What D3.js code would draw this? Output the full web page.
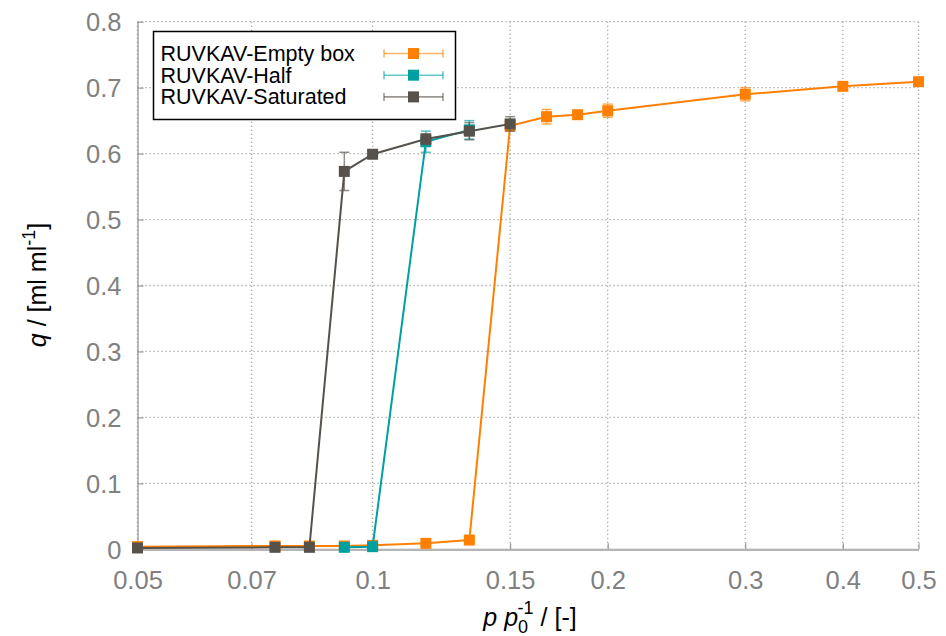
<!DOCTYPE html>
<html>
<head>
<meta charset="utf-8">
<script src="https://cdn.jsdelivr.net/npm/d3@7/dist/d3.min.js"></script>
<style>
  html, body { margin: 0; padding: 0; background: #fff; }
  svg { display: block; }
  text { font-family: "Liberation Sans", Arial, Helvetica, sans-serif; }
</style>
</head>
<body>
<svg id="chart" width="946" height="636"></svg>
<script>
// Relative pressure p/p0 (x) and uptake q in ml/ml (y), with error bars
const emptyX   = [0.05, 0.075, 0.083, 0.092, 0.1, 0.117, 0.133, 0.15, 0.167, 0.183, 0.2, 0.3, 0.4, 0.5];
const emptyQ   = [0.004, 0.005, 0.005, 0.005, 0.006, 0.009, 0.014, 0.642, 0.656, 0.659, 0.665, 0.690, 0.702, 0.709];
const emptyErr = [0.001, 0.001, 0.001, 0.001, 0.001, 0.002, 0.002, 0.006, 0.011, 0.004, 0.010, 0.010, 0.004, 0.003];

const halfX   = [0.092, 0.1, 0.117, 0.133];
const halfQ   = [0.003, 0.004, 0.618, 0.636];
const halfErr = [0.001, 0.001, 0.016, 0.014];

const satX   = [0.05, 0.075, 0.083, 0.092, 0.1, 0.117, 0.133, 0.15];
const satQ   = [0.002, 0.003, 0.003, 0.573, 0.599, 0.622, 0.634, 0.645];
const satErr = [0.001, 0.001, 0.001, 0.029, 0.004, 0.008, 0.013, 0.011];

const seriesNames  = ["RUVKAV-Empty box", "RUVKAV-Half", "RUVKAV-Saturated"];
const seriesColors = ["#ff8000", "#00a0a0", "#57514b"];

const xTicks = [0.05, 0.07, 0.1, 0.15, 0.2, 0.3, 0.4, 0.5];
const xTickLabels = ["0.05", "0.07", "0.1", "0.15", "0.2", "0.3", "0.4", "0.5"];
const yTicks = [0, 0.1, 0.2, 0.3, 0.4, 0.5, 0.6, 0.7, 0.8];
const yTickLabels = ["0", "0.1", "0.2", "0.3", "0.4", "0.5", "0.6", "0.7", "0.8"];

const series = [
  { name: seriesNames[0], color: seriesColors[0], x: emptyX, q: emptyQ, err: emptyErr },
  { name: seriesNames[1], color: seriesColors[1], x: halfX,  q: halfQ,  err: halfErr },
  { name: seriesNames[2], color: seriesColors[2], x: satX,   q: satQ,   err: satErr }
];

const svg = d3.select("#chart");
const plotL = 137.5, plotR = 918.5, plotT = 21.7, plotB = 549.3;

const x = d3.scaleLog().domain([0.05, 0.5]).range([plotL, plotR]);
const y = d3.scaleLinear().domain([0, 0.8]).range([plotB, plotT]);

// dotted grid
const grid = svg.append("g");
grid.selectAll("line.gx").data(xTicks).join("line")
  .attr("x1", d => x(d)).attr("x2", d => x(d))
  .attr("y1", plotT).attr("y2", plotB)
  .attr("stroke", "#a8a8a8").attr("stroke-width", 1.3).attr("stroke-dasharray", "1.3,2.7");
grid.selectAll("line.gy").data(yTicks).join("line")
  .attr("x1", plotL).attr("x2", plotR)
  .attr("y1", d => y(d)).attr("y2", d => y(d))
  .attr("stroke", "#a8a8a8").attr("stroke-width", 1.3).attr("stroke-dasharray", "1.3,2.7");

// axes (left and bottom border)
const xAxis = d3.axisBottom(x).tickValues(xTicks).tickFormat((d, i) => xTickLabels[i])
  .tickSizeInner(-6).tickSizeOuter(0).tickPadding(22);
const yAxis = d3.axisLeft(y).tickValues(yTicks).tickFormat((d, i) => yTickLabels[i])
  .tickSizeInner(-6).tickSizeOuter(0).tickPadding(22);

const gx = svg.append("g").attr("transform", `translate(0,${plotB})`).call(xAxis);
const gy = svg.append("g").attr("transform", `translate(${plotL},0)`).call(yAxis);
[gx, gy].forEach(g => {
  g.select(".domain").attr("stroke", "#999").attr("stroke-width", 1.3);
  g.selectAll(".tick line").attr("stroke", "#999").attr("stroke-width", 1.2);
  g.selectAll(".tick text").attr("fill", "#808080").attr("font-size", 25.5)
    .attr("font-family", "'Liberation Sans', Arial, sans-serif");
});
gx.select(".domain").attr("stroke", "#b5b5b5").attr("stroke-width", 2.2);
gx.selectAll(".tick text").attr("dy", 0).attr("y", 39.5);
gy.selectAll(".tick text").attr("x", -16).attr("dy", "0.36em");

// series: connecting line, error bars, square markers
const cap = 5;
series.forEach(s => {
  const pts = s.x.map((v, i) => ({ x: v, q: s.q[i], e: s.err[i] }));
  const g = svg.append("g");
  g.append("path").datum(pts)
    .attr("fill", "none").attr("stroke", s.color).attr("stroke-width", 2)
    .attr("d", d3.line().x(d => x(d.x)).y(d => y(d.q)));
  const eb = g.append("g").attr("stroke", s.color).attr("stroke-opacity", 0.65).attr("stroke-width", 1.5);
  eb.selectAll("line.v").data(pts).join("line")
    .attr("x1", d => x(d.x)).attr("x2", d => x(d.x))
    .attr("y1", d => y(d.q - d.e)).attr("y2", d => y(d.q + d.e));
  eb.selectAll("line.t").data(pts).join("line")
    .attr("x1", d => x(d.x) - cap).attr("x2", d => x(d.x) + cap)
    .attr("y1", d => y(d.q + d.e)).attr("y2", d => y(d.q + d.e));
  eb.selectAll("line.b").data(pts).join("line")
    .attr("x1", d => x(d.x) - cap).attr("x2", d => x(d.x) + cap)
    .attr("y1", d => y(d.q - d.e)).attr("y2", d => y(d.q - d.e));
  g.selectAll("rect").data(pts).join("rect")
    .attr("x", d => x(d.x) - 5.5).attr("y", d => y(d.q) - 5.5)
    .attr("width", 11).attr("height", 11).attr("fill", s.color);
});

// legend
const lg = svg.append("g");
lg.append("rect").attr("x", 153.5).attr("y", 31.5).attr("width", 302).attr("height", 88)
  .attr("fill", "#fff").attr("stroke", "#000").attr("stroke-width", 1.5);
series.forEach((s, i) => {
  const cy = 53.5 + i * 21.7;
  lg.append("text").attr("x", 160.5).attr("y", cy + 7.5)
    .attr("font-size", 21.5).attr("fill", "#000").text(s.name);
  const sg = lg.append("g").attr("stroke", s.color).attr("stroke-opacity", 0.6).attr("stroke-width", 1.6);
  sg.append("line").attr("x1", 384).attr("x2", 443).attr("y1", cy).attr("y2", cy);
  sg.append("line").attr("x1", 384).attr("x2", 384).attr("y1", cy - 4).attr("y2", cy + 4);
  sg.append("line").attr("x1", 443).attr("x2", 443).attr("y1", cy - 4).attr("y2", cy + 4);
  lg.append("rect").attr("x", 413.5 - 5.5).attr("y", cy - 5.5).attr("width", 11).attr("height", 11)
    .attr("fill", s.color);
});

// axis titles
const yl = svg.append("text")
  .attr("transform", "translate(46,285) rotate(-90)")
  .attr("text-anchor", "middle").attr("font-size", 25).attr("fill", "#000");
yl.append("tspan").attr("font-style", "italic").text("q");
yl.append("tspan").text(" / [ml ml");
yl.append("tspan").attr("font-size", 18).attr("dy", -11).text("-1");
yl.append("tspan").attr("dy", 11).text("]");

const xl = svg.append("text")
  .attr("x", 530).attr("y", 626)
  .attr("text-anchor", "middle").attr("font-size", 25).attr("fill", "#000");
xl.append("tspan").attr("font-style", "italic").text("p");
xl.append("tspan").text(" ");
xl.append("tspan").attr("font-style", "italic").text("p");
xl.append("tspan").attr("font-size", 18).attr("dy", 7).text("0");
xl.append("tspan").attr("font-size", 18).attr("dy", -19).attr("dx", -10.5).text("-1");
xl.append("tspan").attr("dy", 12).text(" / [-]");
</script>
</body>
</html>
